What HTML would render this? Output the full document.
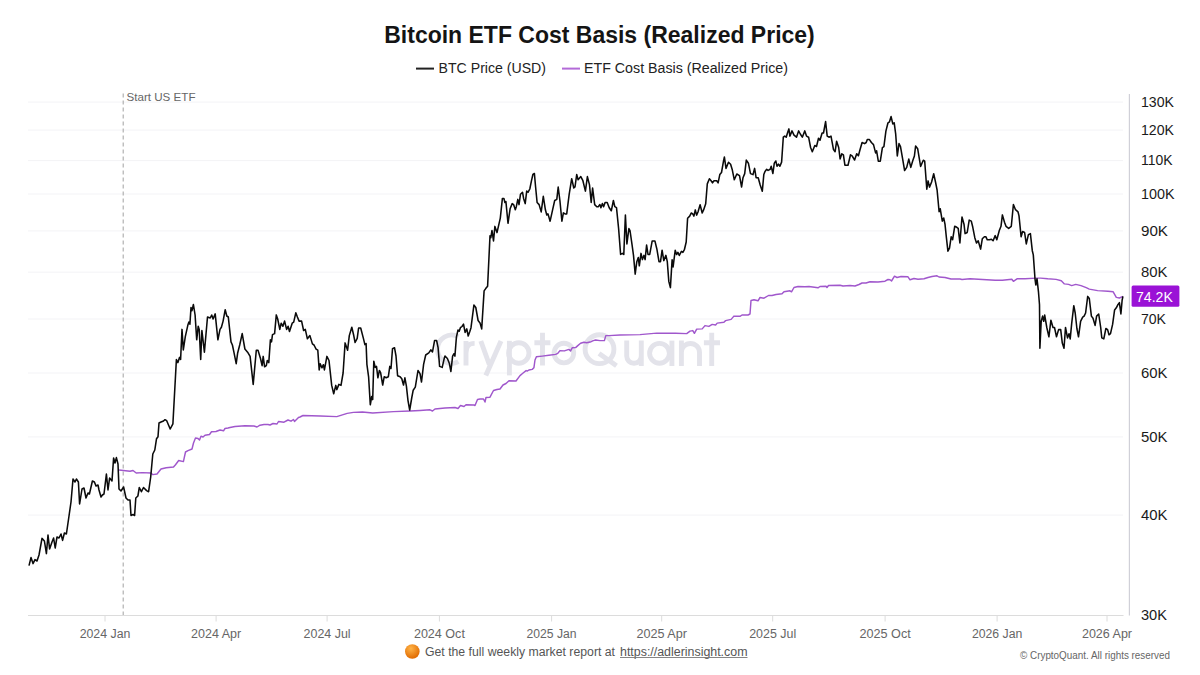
<!DOCTYPE html>
<html><head><meta charset="utf-8">
<style>
html,body{margin:0;padding:0;background:#fff;}
body{width:1200px;height:675px;overflow:hidden;position:relative;font-family:"Liberation Sans",sans-serif;}
svg{position:absolute;left:0;top:0;}
</style></head>
<body>
<svg width="1200" height="675" viewBox="0 0 1200 675" font-family="Liberation Sans, sans-serif">
<rect width="1200" height="675" fill="#fff"/>
<text x="599.5" y="43.1" text-anchor="middle" font-size="23" font-weight="bold" fill="#141414" textLength="430.5" lengthAdjust="spacingAndGlyphs">Bitcoin ETF Cost Basis (Realized Price)</text>
<line x1="416" y1="68.6" x2="434" y2="68.6" stroke="#222" stroke-width="2"/>
<text x="438.6" y="73.1" font-size="14" fill="#222" textLength="107.4" lengthAdjust="spacingAndGlyphs">BTC Price (USD)</text>
<line x1="562" y1="68.6" x2="580" y2="68.6" stroke="#b36ad8" stroke-width="2"/>
<text x="584" y="73.1" font-size="14" fill="#222" textLength="204" lengthAdjust="spacingAndGlyphs">ETF Cost Basis (Realized Price)</text>
<g stroke="#f3f3f6" stroke-width="1"><line x1="28" y1="515.1" x2="1123" y2="515.1"/><line x1="28" y1="436.9" x2="1123" y2="436.9"/><line x1="28" y1="373.0" x2="1123" y2="373.0"/><line x1="28" y1="319.0" x2="1123" y2="319.0"/><line x1="28" y1="272.2" x2="1123" y2="272.2"/><line x1="28" y1="230.9" x2="1123" y2="230.9"/><line x1="28" y1="194.0" x2="1123" y2="194.0"/><line x1="28" y1="160.6" x2="1123" y2="160.6"/><line x1="28" y1="130.1" x2="1123" y2="130.1"/><line x1="28" y1="102.1" x2="1123" y2="102.1"/></g>
<g fill="none" stroke="#e3e3ea" stroke-width="4.9">
<path d="M458.4 336.7A14.2 14.2 0 1 0 458.4 361.7"/>
<path d="M466 365.6V341M466 353C466 346 469 343.4 474.6 343.4"/>
<path d="M480.8 341L489.3 364.5M501 341L485.8 375.6"/>
<path d="M509.4 340.8V375.4"/><circle cx="518.8" cy="353" r="10.2"/>
<path d="M542.5 332.8V365.5M534.4 342.8H550.4"/>
<circle cx="563.9" cy="353.05" r="9.8"/>
<circle cx="599.5" cy="349.2" r="14.4"/><path d="M599 353.5L616.5 365.8"/>
<path d="M626.7 340.6V356A7.3 7.3 0 0 0 641.3 356M641.3 340.6V366"/>
<circle cx="659.5" cy="353.3" r="9.9"/><path d="M671.9 340.6V366"/>
<path d="M681.4 340.6V366M681.4 352.5A9 9 0 0 1 699.5 352.5V366"/>
<path d="M711.7 332.8V366M703.9 342.8H720"/>
</g>
<line x1="123.2" y1="93.5" x2="123.2" y2="615" stroke="#aaaaaa" stroke-width="1.1" stroke-dasharray="4 3"/>
<text x="126.5" y="100.8" font-size="11.6" fill="#666" textLength="69" lengthAdjust="spacingAndGlyphs">Start US ETF</text>
<line x1="28" y1="615.5" x2="1123.5" y2="615.5" stroke="#dcdcdc" stroke-width="1.2"/>
<line x1="1129.4" y1="94" x2="1129.4" y2="615.5" stroke="#d0d0d8" stroke-width="1.2"/>
<g stroke="#dcdcdc" stroke-width="1"><line x1="105.00" y1="615.5" x2="105.00" y2="621.5"/><line x1="216.10" y1="615.5" x2="216.10" y2="621.5"/><line x1="327.10" y1="615.5" x2="327.10" y2="621.5"/><line x1="439.40" y1="615.5" x2="439.40" y2="621.5"/><line x1="551.60" y1="615.5" x2="551.60" y2="621.5"/><line x1="661.70" y1="615.5" x2="661.70" y2="621.5"/><line x1="772.70" y1="615.5" x2="772.70" y2="621.5"/><line x1="885.10" y1="615.5" x2="885.10" y2="621.5"/><line x1="997.10" y1="615.5" x2="997.10" y2="621.5"/><line x1="1107.00" y1="615.5" x2="1107.00" y2="621.5"/></g>
<g font-size="12.3" fill="#666" text-anchor="middle"><text x="105.00" y="637.5" textLength="50.75" lengthAdjust="spacingAndGlyphs">2024 Jan</text><text x="216.10" y="637.5" textLength="50.00" lengthAdjust="spacingAndGlyphs">2024 Apr</text><text x="327.10" y="637.5" textLength="47.00" lengthAdjust="spacingAndGlyphs">2024 Jul</text><text x="439.40" y="637.5" textLength="51.00" lengthAdjust="spacingAndGlyphs">2024 Oct</text><text x="551.60" y="637.5" textLength="50.00" lengthAdjust="spacingAndGlyphs">2025 Jan</text><text x="661.70" y="637.5" textLength="50.50" lengthAdjust="spacingAndGlyphs">2025 Apr</text><text x="772.70" y="637.5" textLength="47.00" lengthAdjust="spacingAndGlyphs">2025 Jul</text><text x="885.10" y="637.5" textLength="51.25" lengthAdjust="spacingAndGlyphs">2025 Oct</text><text x="997.10" y="637.5" textLength="50.40" lengthAdjust="spacingAndGlyphs">2026 Jan</text><text x="1107.00" y="637.5" textLength="50.10" lengthAdjust="spacingAndGlyphs">2026 Apr</text></g>
<g font-size="15" fill="#1a1a1a"><text x="1141" y="619.5" textLength="26.0" lengthAdjust="spacingAndGlyphs">30K</text><text x="1141" y="519.7" textLength="26.5" lengthAdjust="spacingAndGlyphs">40K</text><text x="1141" y="441.5" textLength="26.5" lengthAdjust="spacingAndGlyphs">50K</text><text x="1141" y="377.6" textLength="26.5" lengthAdjust="spacingAndGlyphs">60K</text><text x="1141" y="323.6" textLength="25.0" lengthAdjust="spacingAndGlyphs">70K</text><text x="1141" y="276.8" textLength="26.5" lengthAdjust="spacingAndGlyphs">80K</text><text x="1141" y="235.5" textLength="27.0" lengthAdjust="spacingAndGlyphs">90K</text><text x="1141" y="198.6" textLength="33.5" lengthAdjust="spacingAndGlyphs">100K</text><text x="1141" y="165.2" textLength="31.5" lengthAdjust="spacingAndGlyphs">110K</text><text x="1141" y="134.7" textLength="33.0" lengthAdjust="spacingAndGlyphs">120K</text><text x="1141" y="106.7" textLength="33.0" lengthAdjust="spacingAndGlyphs">130K</text></g>
<path d="M119.0 470.0L130.0 471.3L133.0 470.5L136.2 473.0L142.4 472.6L150.7 473.0L152.8 474.6L157.0 474.0L161.0 469.0L166.2 467.8L173.5 467.0L175.5 464.7L178.7 460.5L183.4 461.6L185.5 452.0L188.0 450.6L192.0 449.0L193.5 443.0L195.5 438.0L198.0 438.5L199.5 440.0L201.0 436.2L203.0 437.0L205.0 435.2L209.5 434.5L211.5 431.8L216.0 431.5L220.0 430.0L223.5 430.8L225.0 428.5L228.0 428.0L230.0 427.5L235.0 426.5L245.0 425.8L254.0 426.0L257.0 427.0L260.0 425.2L264.0 424.5L268.0 424.5L270.0 425.0L273.0 423.5L277.0 424.0L278.5 421.5L284.0 422.2L288.0 420.0L291.0 421.2L293.5 419.5L294.5 421.5L298.5 417.5L300.0 417.0L303.0 415.5L320.2 416.0L336.8 416.6L347.2 413.4L353.4 412.4L362.4 412.0L372.7 413.0L393.5 411.6L410.0 411.0L420.0 410.5L430.0 409.8L432.5 411.0L435.0 409.0L445.0 408.0L455.0 407.5L458.0 408.5L460.5 405.5L464.0 406.5L466.0 404.8L474.0 405.0L475.0 405.5L477.5 399.5L480.0 399.0L483.5 399.0L485.0 402.0L486.0 397.5L490.0 397.2L493.5 390.5L497.0 389.5L500.0 389.0L503.0 385.0L506.0 383.5L509.0 380.8L516.0 381.0L520.0 375.6L522.8 373.3L526.1 370.6L527.2 371.1L528.9 370.0L532.2 369.4L533.9 367.8L535.0 360.0L536.4 356.7L542.2 356.1L548.9 355.3L555.6 354.4L557.8 353.3L560.0 350.6L564.4 350.9L568.9 349.4L570.6 350.9L572.2 347.8L575.6 347.6L577.8 345.6L580.6 343.3L583.9 342.2L586.7 342.8L591.1 341.7L593.3 340.6L595.6 340.0L600.0 340.6L604.4 340.6L605.8 335.6L608.9 335.6L620.0 335.0L640.0 334.6L656.7 333.1L675.6 333.3L686.7 333.6L690.0 331.1L692.8 330.6L694.4 333.3L696.7 329.1L702.2 328.9L705.0 325.6L708.9 326.4L712.2 324.4L715.6 325.0L717.2 323.1L723.9 322.2L725.6 320.6L731.1 319.4L733.9 316.1L740.0 316.3L742.0 315.0L748.0 315.0L750.0 314.0L751.0 300.5L754.0 299.8L758.0 300.8L760.0 297.5L764.0 298.2L768.5 295.5L772.0 295.5L776.0 294.5L782.0 293.8L784.0 291.8L790.0 290.8L791.5 291.8L794.0 287.5L798.0 286.5L805.0 286.8L809.0 286.5L818.0 287.8L820.0 286.5L826.0 286.2L827.0 287.5L828.5 285.5L840.0 285.2L843.0 286.0L850.0 285.5L855.0 286.0L859.0 284.5L862.0 283.0L866.0 283.0L870.0 281.8L878.0 282.0L885.0 281.2L888.0 279.5L890.0 279.8L891.5 281.0L894.5 276.2L897.0 277.5L901.0 276.5L908.0 276.8L910.0 279.8L914.0 278.5L918.0 279.2L924.0 278.8L928.0 277.5L932.0 276.5L937.0 275.8L939.0 277.0L945.0 277.5L951.0 279.0L960.0 279.0L962.0 279.5L970.0 278.8L995.2 280.2L1002.4 280.2L1011.8 279.2L1013.4 281.3L1017.0 278.8L1025.0 278.8L1036.4 278.1L1040.6 278.1L1047.8 278.8L1056.1 279.4L1061.3 280.8L1064.4 283.9L1068.6 284.4L1071.7 285.6L1075.8 284.4L1081.0 285.6L1086.2 287.7L1089.3 289.1L1097.6 290.6L1108.0 291.2L1113.2 291.8L1116.3 297.4L1119.4 298.0L1122.9 296.4" fill="none" stroke="#a057cc" stroke-width="1.45" stroke-linejoin="round"/>
<path d="M29.0 565.6L31.0 557.6L33.0 563.6L35.0 559.6L37.0 561.0L39.0 555.0L42.0 538.4L44.4 541.0L46.4 553.6L48.0 535.0L49.6 549.0L52.0 542.0L53.6 538.0L55.2 548.0L57.0 537.0L59.0 538.0L61.0 534.0L62.6 540.4L64.4 533.0L66.4 534.0L69.0 516.0L71.0 502.0L73.0 479.0L75.0 482.0L76.4 479.0L78.4 482.0L79.6 504.0L82.0 489.0L84.0 488.0L86.0 498.0L88.0 493.0L89.4 494.0L92.4 481.0L94.4 482.0L96.0 486.0L98.0 485.0L99.0 490.0L101.0 497.0L102.4 495.0L104.0 494.0L106.4 474.0L108.0 490.0L109.6 478.0L112.0 481.0L113.6 458.0L115.0 463.0L116.4 457.6L118.0 464.0L119.0 489.0L121.0 491.0L123.6 487.0L126.0 498.0L128.0 500.0L130.0 500.0L131.0 515.5L133.1 514.5L134.6 515.5L135.8 498.0L137.9 496.0L139.3 487.5L141.4 491.7L143.5 487.5L146.6 490.6L148.6 491.7L150.7 477.0L152.8 454.0L154.8 450.0L156.5 438.8L158.0 436.7L159.0 423.0L161.0 422.0L163.5 421.0L165.0 419.7L166.7 420.7L170.2 429.0L172.9 423.8L176.4 359.5L177.9 362.6L179.5 357.4L180.6 359.5L182.0 329.4L183.3 350.0L185.3 336.7L187.8 325.3L188.9 322.0L189.9 324.2L191.0 307.6L192.0 310.7L193.4 304.5L195.1 315.0L196.7 339.8L198.2 326.3L199.2 329.4L200.7 359.5L201.9 330.5L204.4 352.2L207.5 317.0L210.2 318.0L211.7 315.0L213.1 319.0L215.2 313.9L217.9 339.8L220.0 329.4L221.4 327.3L223.1 321.1L225.2 309.7L226.8 316.0L228.3 317.0L231.0 341.9L232.4 345.0L233.9 352.2L236.2 363.7L237.6 353.3L239.7 345.0L242.2 333.6L244.9 349.0L247.6 352.2L250.1 356.4L253.2 384.4L256.3 350.2L258.0 350.2L260.5 358.5L262.1 365.7L263.2 356.4L264.6 366.8L266.3 365.7L267.3 360.5L268.8 362.6L270.4 339.8L271.5 341.9L272.5 334.6L274.6 333.6L276.3 314.9L277.7 319.0L279.8 329.4L281.2 323.2L282.9 326.3L284.6 321.1L286.6 329.4L288.1 326.3L289.5 331.5L292.2 323.2L293.7 322.2L295.8 312.8L297.4 317.0L299.1 321.1L301.6 321.1L303.6 330.5L305.3 329.4L307.4 338.8L309.9 335.6L312.4 343.9L314.0 345.0L316.1 349.1L317.8 350.2L319.2 369.9L320.2 363.7L321.9 367.8L323.4 364.7L324.4 369.9L326.9 356.4L329.0 360.5L331.7 385.4L333.7 393.7L335.8 385.4L336.8 389.6L338.9 384.4L341.0 385.4L343.1 373.0L345.1 342.9L347.6 350.2L349.3 335.6L351.8 327.3L353.7 335.3L355.1 342.5L357.2 338.4L358.6 328.0L360.7 328.0L363.4 338.4L364.9 344.6L366.1 343.6L366.9 364.3L368.6 376.8L370.3 404.8L371.7 396.5L372.7 399.6L373.8 361.2L375.2 367.4L376.5 366.4L377.9 377.8L379.4 370.5L380.6 372.6L382.7 385.0L384.2 376.8L386.2 377.8L388.3 376.8L389.8 366.4L391.0 368.5L392.5 348.8L394.5 347.7L396.0 356.0L397.6 375.7L400.1 376.8L401.8 378.8L403.5 385.0L404.9 377.8L406.4 386.1L408.0 400.6L409.7 410.0L411.8 397.5L413.2 390.2L415.3 387.1L418.0 370.5L420.0 373.7L421.5 382.0L423.6 364.3L425.7 355.0L428.8 352.9L430.8 349.8L432.5 351.9L434.6 340.5L436.6 340.5L438.1 347.7L439.6 366.4L442.2 367.4L444.3 358.1L445.0 356.1L447.4 358.5L449.3 363.2L450.9 371.5L452.6 356.1L454.0 353.7L454.9 356.1L456.4 337.2L458.0 330.0L459.2 331.2L460.4 327.7L462.0 326.5L463.5 324.1L465.1 332.4L466.8 328.9L468.2 336.0L469.9 331.2L471.0 327.7L473.9 305.1L475.8 307.5L478.1 320.5L480.0 322.9L481.7 328.9L484.1 290.9L485.7 288.6L487.6 286.2L490.0 235.7L490.8 237.8L492.0 230.5L493.5 240.9L494.9 226.4L497.0 232.6L500.3 218.1L502.4 198.4L503.9 198.4L504.9 202.5L505.9 201.5L508.0 223.3L510.1 208.8L512.2 203.6L513.6 204.6L515.3 209.8L516.3 206.7L517.8 199.4L519.0 204.6L520.5 194.2L522.5 192.2L523.6 198.4L525.2 203.6L526.7 191.1L528.1 192.2L529.8 189.0L531.5 180.7L532.9 174.5L534.4 173.5L535.6 187.0L537.1 202.5L539.1 204.6L541.2 211.9L543.3 196.3L545.4 209.8L546.8 215.0L548.0 213.9L550.1 221.2L552.6 209.8L554.7 200.5L556.8 199.4L558.2 187.0L559.9 200.5L561.9 221.2L563.4 212.9L565.1 213.9L566.7 213.9L569.2 194.2L571.7 178.7L573.8 188.0L575.0 187.0L576.7 174.5L578.1 179.7L580.8 176.6L582.9 180.7L585.4 191.1L587.4 176.6L589.5 184.9L591.2 202.5L592.6 188.0L594.7 204.6L596.8 206.7L598.2 206.7L599.9 204.6L600.9 207.7L602.4 203.6L603.6 206.7L605.1 202.5L607.2 202.5L609.2 207.7L611.3 210.8L613.4 200.5L614.8 206.7L616.5 207.7L618.6 228.5L620.6 254.4L622.7 253.4L623.8 254.4L625.4 215.0L626.9 244.0L628.9 228.5L630.0 230.5L632.1 245.1L633.5 255.4L635.2 274.1L636.8 261.7L638.3 257.5L639.3 265.8L641.0 253.4L642.4 259.6L643.9 255.4L645.1 259.6L646.6 245.1L648.0 254.4L649.7 254.4L652.2 240.9L654.9 240.9L656.9 249.2L659.0 261.7L660.5 261.7L662.1 250.2L663.8 260.6L665.9 255.4L667.3 261.7L668.8 281.4L670.4 287.6L672.1 259.7L673.1 266.9L675.2 250.3L676.6 254.5L677.9 252.4L679.3 255.5L681.4 251.4L682.9 252.4L684.5 249.3L686.2 242.0L687.6 218.2L689.7 216.1L691.2 213.0L692.8 214.0L693.9 216.1L695.3 209.9L696.6 215.1L698.0 212.0L700.1 204.7L702.2 213.0L703.6 209.9L705.7 203.7L707.3 183.9L709.4 178.8L711.1 180.8L712.5 182.9L714.0 180.8L716.7 180.8L718.1 182.9L719.8 174.6L721.5 172.5L723.5 161.1L724.4 157.0L726.0 168.4L728.5 162.2L730.6 164.2L732.2 169.4L734.3 179.8L736.8 174.0L739.5 175.6L741.6 187.0L743.0 177.7L744.7 173.6L746.3 160.1L748.4 163.2L750.5 173.6L753.0 174.6L754.6 168.4L756.1 177.7L758.2 177.7L760.2 185.0L762.3 191.2L763.8 174.6L765.0 171.4L766.7 169.3L768.1 170.4L770.2 169.3L771.2 166.2L772.9 173.5L774.3 163.1L775.8 161.0L777.0 166.2L778.5 164.1L779.9 166.2L781.6 162.1L783.3 137.2L784.7 136.1L786.2 137.2L787.8 132.0L788.9 128.9L789.9 136.1L792.0 130.9L794.0 135.1L796.5 137.2L798.6 130.9L800.3 134.0L802.3 137.2L804.8 130.9L806.5 136.1L808.6 137.2L810.6 147.5L812.3 151.7L814.8 145.5L816.5 146.5L818.5 138.2L820.0 140.3L822.1 133.0L823.5 133.0L825.6 121.6L827.2 136.1L829.3 137.2L831.0 136.1L833.5 149.6L835.1 151.7L836.6 141.3L838.7 147.5L840.1 158.9L841.8 153.8L843.4 154.8L844.9 165.2L848.0 165.2L850.5 154.8L852.1 155.8L854.6 160.0L856.7 153.8L858.4 155.8L860.0 149.8L862.1 142.5L864.6 143.6L866.2 142.5L867.3 139.4L869.3 139.4L871.4 142.5L873.5 144.6L875.6 152.9L876.6 150.8L878.3 161.2L880.3 161.2L882.4 147.7L883.9 146.7L885.9 131.1L888.0 122.8L889.5 121.8L891.1 116.6L892.8 123.9L894.2 122.8L895.7 134.2L897.3 156.0L899.0 143.6L900.5 146.7L902.5 158.1L904.6 170.5L906.7 167.4L908.8 159.1L910.8 167.4L912.9 160.2L914.4 156.0L915.6 146.1L917.7 148.8L920.6 166.4L923.3 160.2L924.7 161.2L926.8 189.2L928.1 180.9L929.5 187.1L931.6 182.0L933.7 173.7L935.7 183.0L937.1 190.0L939.1 211.8L940.2 208.7L942.3 221.1L943.7 218.0L945.0 224.2L946.4 237.7L947.9 251.2L949.5 248.1L951.2 236.7L952.6 239.8L954.7 226.3L956.8 227.3L958.2 228.4L959.9 242.9L962.0 217.0L964.0 224.2L965.1 233.6L967.2 232.5L969.2 220.1L971.3 221.1L972.8 227.3L974.8 237.7L976.5 242.9L978.2 240.8L980.6 249.1L982.3 238.8L984.4 236.7L985.8 236.7L987.3 239.8L989.4 239.8L991.4 239.2L993.1 240.8L995.2 235.6L996.8 239.8L999.3 230.5L1001.0 226.3L1002.4 214.9L1004.5 222.2L1006.0 226.3L1008.7 228.4L1011.3 226.3L1013.4 204.5L1015.5 209.7L1018.0 211.8L1019.0 215.9L1021.1 236.7L1022.6 231.5L1024.6 232.5L1026.3 243.9L1028.4 234.6L1030.4 233.6L1032.3 250.7L1033.3 254.9L1035.0 278.8L1035.8 285.0L1037.0 278.8L1038.5 292.2L1039.5 304.7L1039.9 348.3L1041.2 321.3L1042.6 316.1L1043.7 321.3L1044.7 315.1L1046.8 327.5L1048.9 336.8L1050.9 320.2L1053.0 327.5L1054.5 327.5L1056.5 336.8L1058.6 329.6L1060.7 329.6L1062.3 343.1L1064.0 348.3L1065.5 327.5L1067.5 337.9L1069.0 333.7L1070.2 338.9L1071.7 323.4L1073.8 305.7L1075.2 313.0L1076.9 328.5L1078.5 336.8L1080.6 321.3L1082.7 317.1L1084.1 316.1L1085.6 313.0L1087.7 296.4L1089.3 298.5L1091.4 316.1L1093.0 318.2L1095.1 325.4L1096.6 316.1L1098.7 314.0L1100.7 327.5L1101.8 337.9L1103.8 338.9L1105.9 328.5L1107.6 329.6L1109.0 334.8L1110.5 333.7L1112.6 324.4L1114.6 309.9L1116.3 307.8L1117.9 304.7L1119.4 302.6L1120.9 314.0L1122.1 300.5L1122.9 296.4" fill="none" stroke="#0a0a0a" stroke-width="1.55" stroke-linejoin="round"/>
<rect x="1131.6" y="285.4" width="47.8" height="21.3" rx="1.5" fill="#9a12d6"/>
<text x="1136" y="302" font-size="14.5" fill="#fff" textLength="36.8" lengthAdjust="spacingAndGlyphs">74.2K</text>
<defs><radialGradient id="og" cx="40%" cy="30%" r="70%"><stop offset="0" stop-color="#ffb347"/><stop offset="1" stop-color="#e06a00"/></radialGradient></defs>
<circle cx="412.3" cy="651.5" r="7.3" fill="url(#og)"/>
<text x="425" y="655.8" font-size="12.5" fill="#555" textLength="190" lengthAdjust="spacingAndGlyphs">Get the full weekly market report at</text>
<text x="620" y="655.8" font-size="12.5" fill="#555" textLength="127.5" lengthAdjust="spacingAndGlyphs">https://adlerinsight.com</text>
<line x1="620" y1="657.5" x2="747.5" y2="657.5" stroke="#777" stroke-width="0.9"/>
<text x="1020" y="658.5" font-size="11" fill="#666" textLength="150" lengthAdjust="spacingAndGlyphs">© CryptoQuant. All rights reserved</text>
</svg>
</body></html>
